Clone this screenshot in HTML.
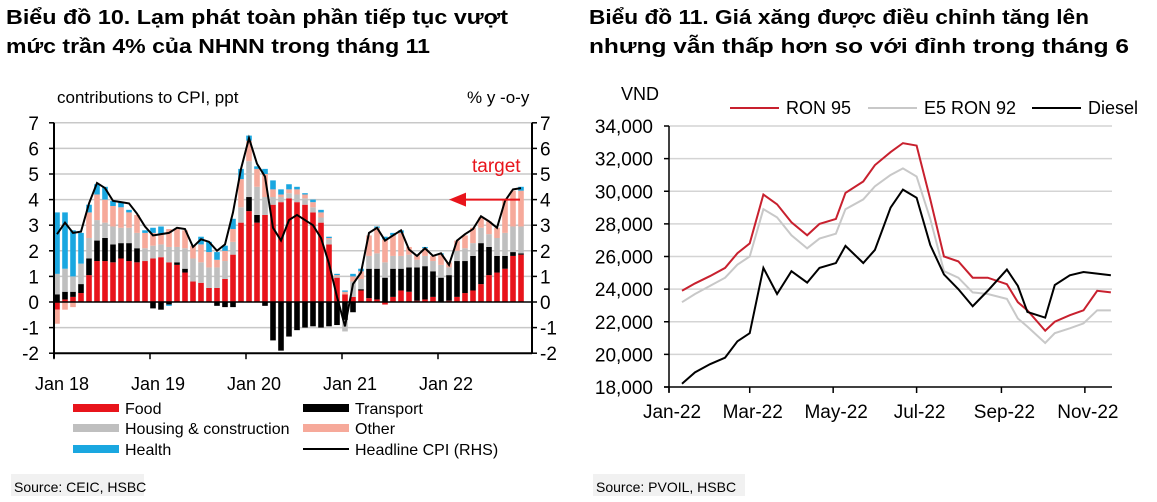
<!DOCTYPE html>
<html><head><meta charset="utf-8"><style>
body{margin:0;background:#fff;width:1157px;height:502px;overflow:hidden}
svg{display:block;font-family:"Liberation Sans",Arial,sans-serif}
</style></head><body>
<svg id="s" width="1157" height="502" xmlns="http://www.w3.org/2000/svg">
<g font-weight="bold" font-size="20" fill="#000">
<text x="6" y="24" textLength="502" lengthAdjust="spacingAndGlyphs">Biểu đồ 10. Lạm phát toàn phần tiếp tục vượt</text>
<text x="6" y="53" textLength="424" lengthAdjust="spacingAndGlyphs">mức trần 4% của NHNN trong tháng 11</text>
<text x="589" y="24" textLength="500" lengthAdjust="spacingAndGlyphs">Biểu đồ 11. Giá xăng được điều chỉnh tăng lên</text>
<text x="589" y="53" textLength="540" lengthAdjust="spacingAndGlyphs">nhưng vẫn thấp hơn so với đỉnh trong tháng 6</text>
</g>
<g id="left"></g>
<g id="right"></g>
<rect x="11" y="474" width="133" height="22" fill="#f1f1f1"/>
<text x="14" y="492" font-size="14">Source:  CEIC, HSBC</text>
<rect x="593" y="474" width="152" height="22" fill="#f1f1f1"/>
<text x="596" y="492" font-size="14">Source: PVOIL, HSBC</text>
</svg>
<script>
// ---- Left chart data (Jan 2018 .. Nov 2022) ----
const food=[-0.3,0.1,0.2,0.35,1.05,1.6,1.6,1.55,1.7,1.6,1.55,1.6,
1.7,1.75,1.55,1.45,1.15,0.8,0.75,0.55,0.55,0.9,1.85,3.1,
3.55,3.1,3.4,3.8,3.9,4.05,3.9,3.8,3.5,3.1,2.25,0.95,
0.3,0.2,0.45,0.15,0.1,-0.1,0.2,0.45,0.4,0.05,0.1,0.2,
0,0.05,0.2,0.35,0.45,0.7,1.05,1.15,1.3,1.8,1.85];
const transport=[0.3,0.3,0.2,0.35,0.65,0.8,0.9,0.7,0.6,0.7,0.55,0,
-0.25,-0.3,-0.1,0.1,0.15,0,0,0,-0.15,-0.2,-0.2,0,
0.55,0.3,-0.15,-1.5,-1.9,-1.35,-1.1,-1.0,-0.95,-1.0,-0.95,-0.9,
-0.7,-0.4,0.05,1.15,1.2,0.95,1.1,0.85,0.95,1.3,1.3,1.0,
0.95,1.0,1.4,1.25,1.35,1.6,1.1,0.65,0.5,0.15,0.05];
const housing=[0.8,0.9,0.6,0.8,0.8,0.8,0.6,0.7,0.6,0.6,0.6,0.5,
0.5,0.5,0.6,0.6,0.8,0.9,0.8,0.8,0.8,0.7,0.5,0.6,
1.4,1.1,0.7,0.3,0.2,0.2,0.3,0.25,0.2,0.2,0.2,0.05,
-0.45,0.6,0.4,0.5,0.6,0.6,0.5,0.5,0.5,0.3,0.4,0.4,
0.5,0.3,0.4,0.5,0.5,0.6,0.5,0.7,0.9,1.0,1.05];
const other=[-0.55,-0.3,-0.2,0,1.0,1.0,0.9,0.8,0.8,0.6,0.7,0.6,
0.5,0.4,0.7,0.7,0.7,0.5,0.7,0.6,0.3,0.4,0.5,1.1,
0.8,0.7,0.9,0.3,0.1,0.15,0.2,0.15,0.2,0.2,0.05,0.05,
0.1,0.2,0.3,0.8,1.0,0.9,0.8,0.9,0.3,0.2,0.3,0.2,
0.4,0.2,0.4,0.5,0.6,0.4,0.5,0.4,1.3,1.4,1.4];
const health=[2.4,2.2,1.8,1.2,0.3,0.4,0.5,0.2,0.2,0.1,0,0.1,
0.2,0.3,-0.05,0,0,0,0.3,0.4,0.3,0.2,0.4,0.4,
0.2,0.1,0.2,0.35,0.2,0.2,0.1,0.05,0.1,0.1,0.05,0.05,
0.05,0.1,0.1,0,0.05,0.1,0.1,0.1,0,0,0.05,0,
0.05,0,0,0,0,0,0,0,0,0,0.15];
const cpi=[2.65,3.1,2.7,2.75,3.85,4.65,4.45,3.95,3.9,3.85,3.45,2.95,
2.6,2.65,2.7,2.9,2.85,2.15,2.45,2.35,2.0,2.25,3.5,5.2,
6.4,5.4,4.9,2.9,2.4,3.2,3.4,3.2,3.0,2.5,1.5,0.2,
-0.95,0.7,1.15,2.7,2.9,2.4,2.6,2.8,2.05,1.8,2.1,1.8,
1.9,1.45,2.4,2.65,2.85,3.35,3.15,2.9,3.95,4.4,4.45];
const leftTicks=[-2,-1,0,1,2,3,4,5,6,7];
const yearLabels=["Jan 18","Jan 19","Jan 20","Jan 21","Jan 22"];

// ---- Right chart data (day of 2022, price VND) ----
const days=[9.5,19,30,41,50,59,69,79,89.5,101,110,122,129,142,150.5,162,171,181,191,201,211.5,222,233,247,255,262,275,282,293,303,313,323];
const ron95=[23900,24350,24800,25300,26200,26800,29800,29200,28100,27300,28000,28300,29900,30600,31600,32400,32950,32800,29500,26000,25700,24700,24700,24300,23200,22700,21450,22000,22400,22700,23900,23800];
const e5ron92=[23200,23700,24200,24700,25500,26000,28900,28400,27300,26500,27100,27400,28900,29500,30300,31000,31400,30900,28300,25100,24700,23800,23700,23400,22200,21700,20700,21300,21600,21900,22700,22700];
const diesel=[18200,18900,19400,19800,20800,21300,25300,23700,25100,24400,25300,25600,26650,25600,26400,29000,30100,29600,26700,24900,24000,22950,23900,25200,24200,22600,22250,24250,24850,25050,24950,24850];
const rightTicks=[18000,20000,22000,24000,26000,28000,30000,32000,34000];
const monthTicks=[0,59,120,181,243,304];
const monthLabels=["Jan-22","Mar-22","May-22","Jul-22","Sep-22","Nov-22"];

const NS="http://www.w3.org/2000/svg";
function mk(p,t,a){const e=document.createElementNS(NS,t);for(const k in a)e.setAttribute(k,a[k]);p.appendChild(e);return e;}

// ---- Left ----
const L=document.getElementById('left');
const lx0=54,lx1=532,ly=v=>302-v*25.6;
const bx=i=>lx0+3+i*8;
leftTicks.forEach(t=>{
 if(t!==0&&t!==-2){const g=mk(L,'line',{x1:lx0,x2:lx1,y1:ly(t),y2:ly(t),stroke:'#c8c8c8','stroke-width':1.5});
 
 }
 const a=mk(L,'text',{x:39,y:ly(t)+7,'font-size':19,'text-anchor':'end'});a.textContent=t;
 
 
 const b=mk(L,'text',{x:540,y:ly(t)+7,'font-size':19});b.textContent=t;
 
 
 mk(L,'line',{x1:lx0-5,x2:lx0,y1:ly(t),y2:ly(t),stroke:'#000','stroke-width':1.5});
 mk(L,'line',{x1:lx1,x2:lx1+5,y1:ly(t),y2:ly(t),stroke:'#000','stroke-width':1.5});
});
const series=[[food,'#e8141b','food'],[transport,'#000','transport'],[housing,'#bfbfbf','housing'],[other,'#f6a99a','other'],[health,'#1aa7e0','health']];
for(let i=0;i<food.length;i++){
 let pos=0,neg=0;
 series.forEach(([arr,c,n])=>{
  const v=arr[i];let y0,y1;
  if(v>=0){y0=pos;y1=pos+v;pos=y1;}else{y0=neg;y1=neg+v;neg=y1;}
  const r=mk(L,'rect',{x:bx(i)-2.8,width:5.6,y:Math.min(ly(y0),ly(y1)),height:Math.abs(ly(y0)-ly(y1)),fill:c});
  
  
 });
}
mk(L,'line',{x1:lx0,x2:lx1,y1:ly(0),y2:ly(0),stroke:'#000','stroke-width':1.5});
mk(L,'line',{x1:lx0,x2:lx1,y1:ly(-2),y2:ly(-2),stroke:'#000','stroke-width':2});
mk(L,'line',{x1:lx0,x2:lx0,y1:ly(7),y2:ly(-2)+5,stroke:'#000','stroke-width':2});
mk(L,'line',{x1:lx1,x2:lx1,y1:ly(7),y2:ly(-2),stroke:'#000','stroke-width':2});
const cl=mk(L,'polyline',{points:cpi.map((v,i)=>bx(i)+','+ly(v)).join(' '),fill:'none',stroke:'#000','stroke-width':2});


yearLabels.forEach((s,k)=>{
 const x=lx0+k*96;
 mk(L,'line',{x1:x,x2:x,y1:ly(-2),y2:ly(-2)+6,stroke:'#000','stroke-width':1.5});
 const t=mk(L,'text',{x:x+8,y:390,'font-size':18,'text-anchor':'middle'});t.textContent=s;
 
 
});
let t=mk(L,'text',{x:57,y:103,'font-size':17});t.textContent='contributions to CPI, ppt';


t=mk(L,'text',{x:467,y:103,'font-size':17});t.textContent='% y -o-y';


t=mk(L,'text',{x:472,y:172,'font-size':19,fill:'#e8141b'});t.textContent='target';


mk(L,'line',{x1:520,x2:460,y1:ly(4),y2:ly(4),stroke:'#e8141b','stroke-width':2});
const ar=mk(L,'polygon',{points:`449,${ly(4)} 466,${ly(4)-7} 466,${ly(4)+7}`,fill:'#e8141b'});


const leg=[[73,408,'#e8141b','Food',8],[73,428,'#bfbfbf','Housing & construction',8],[73,449,'#1aa7e0','Health',8],[303,408,'#000','Transport',8],[303,428,'#f6a99a','Other',8],[303,449,'#000','Headline CPI (RHS)',2]];
leg.forEach(([x,y,c,s,h])=>{
 const r=mk(L,'rect',{x:x,y:y-h/2,width:46,height:h,fill:c});
 
 
 const tt=mk(L,'text',{x:x+52,y:y+6,'font-size':16});tt.textContent=s;
 
 
});

// ---- Right ----
const R=document.getElementById('right');
const rx=d=>669+d*1.368, ry=v=>387-(v-18000)*261/16000;
rightTicks.forEach(v=>{
 if(v>18000){const g=mk(R,'line',{x1:669,x2:1112,y1:ry(v),y2:ry(v),stroke:'#d4d4d4','stroke-width':1.5});
 
 }
 mk(R,'line',{x1:664,x2:669,y1:ry(v),y2:ry(v),stroke:'#000','stroke-width':1.5});
 const a=mk(R,'text',{x:653,y:ry(v)+7,'font-size':19,'text-anchor':'end'});a.textContent=v.toLocaleString('en-US');
 
 
});
mk(R,'line',{x1:669,x2:669,y1:ry(34000),y2:392,stroke:'#000','stroke-width':1.5});
mk(R,'line',{x1:664,x2:1112,y1:ry(18000),y2:ry(18000),stroke:'#000','stroke-width':1.5});
monthTicks.forEach((d,k)=>{
 mk(R,'line',{x1:rx(d),x2:rx(d),y1:387,y2:393,stroke:'#000','stroke-width':1.5});
 const a=mk(R,'text',{x:rx(d)+3,y:418,'font-size':19,'text-anchor':'middle'});a.textContent=monthLabels[k];
 
 
});
[[e5ron92,'#c8c8c8','e5-ron92-line'],[ron95,'#c8202e','ron95-line'],[diesel,'#000','diesel-line']].forEach(([arr,c,n])=>{
 const p=mk(R,'polyline',{points:arr.map((v,i)=>rx(days[i])+','+ry(v)).join(' '),fill:'none',stroke:c,'stroke-width':2});
 
 
});
t=mk(R,'text',{x:621,y:100,'font-size':18});t.textContent='VND';


[[730,'#c8202e','RON 95'],[868,'#c8c8c8','E5 RON 92'],[1032,'#000','Diesel']].forEach(([x,c,s])=>{
 const l=mk(R,'line',{x1:x,x2:x+49,y1:108,y2:108,stroke:c,'stroke-width':2});
 
 
 const a=mk(R,'text',{x:x+56,y:114,'font-size':18});a.textContent=s;
 
 
});
</script>
</body></html>
